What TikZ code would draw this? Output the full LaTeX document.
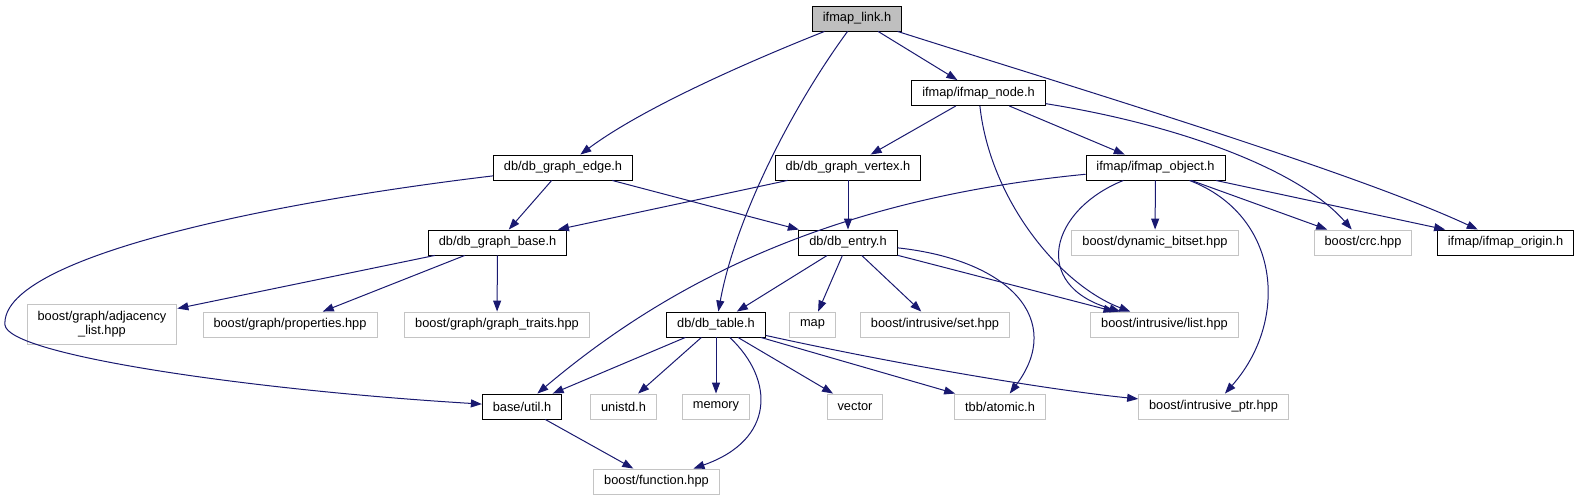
\documentclass[tikz,border=0pt]{standalone}
\usepackage{fontspec}
\setmainfont{Liberation Sans}
\definecolor{EdgeBlue}{RGB}{25, 25, 112}
\definecolor{RootGray}{RGB}{191, 191, 191}
\definecolor{SysGray}{RGB}{196, 196, 196}
\usetikzlibrary{arrows.meta}

\begin{document}
\begin{tikzpicture}[
    x=1pt, y=-1pt,
    every node/.style={font=\fontsize{12.8}{14}\selectfont, align=center,
                       inner xsep=10.5pt, inner ysep=2pt, minimum height=25pt},
    hdr/.style={draw=black, line width=0.9pt, fill=white},
    root/.style={hdr, fill=RootGray},
    sys/.style={draw=SysGray, line width=0.9pt, fill=white},
    incl/.style={-{Triangle[length=11pt, width=8pt]}, EdgeBlue, line width=1pt}
]
\useasboundingbox (0,0) rectangle (1586,500);

% project headers
\node[root] (link) at (857,18.5) {ifmap\_link.h};
\node[hdr] (inode) at (978.5,93) {ifmap/ifmap\_node.h};
\node[hdr] (gedge) at (563,167.5) {db/db\_graph\_edge.h};
\node[hdr] (gvertex) at (848,167.5) {db/db\_graph\_vertex.h};
\node[hdr] (iobject) at (1155.5,167.5) {ifmap/ifmap\_object.h};
\node[hdr] (gbase) at (497.5,242.5) {db/db\_graph\_base.h};
\node[hdr] (entry) at (848,242.5) {db/db\_entry.h};
\node[hdr] (origin) at (1505.5,242.5) {ifmap/ifmap\_origin.h};
\node[hdr] (dbtable) at (716,324.5) {db/db\_table.h};
\node[hdr] (util) at (522,406.5) {base/util.h};

% system headers
\node[sys] (bitset) at (1155,242.5) {boost/dynamic\_bitset.hpp};
\node[sys] (crc) at (1363,242.5) {boost/crc.hpp};
\node[sys, minimum height=40pt] (adjlist) at (102,324) {boost/graph/adjacency\\\_list.hpp};
\node[sys] (props) at (290,324.5) {boost/graph/properties.hpp};
\node[sys] (gtraits) at (497,324.5) {boost/graph/graph\_traits.hpp};
\node[sys] (map) at (812.5,324.5) {map};
\node[sys] (iset) at (935,324.5) {boost/intrusive/set.hpp};
\node[sys] (ilist) at (1164.5,324.5) {boost/intrusive/list.hpp};
\node[sys] (unistd) at (623.5,406.5) {unistd.h};
\node[sys] (memory) at (716,406.5) {memory};
\node[sys] (vector) at (855,406.5) {vector};
\node[sys] (atomic) at (1000,406.5) {tbb/atomic.h};
\node[sys] (iptr) at (1213.5,406.5) {boost/intrusive\_ptr.hpp};
\node[sys] (function) at (656.5,481.5) {boost/function.hpp};

% includes of ifmap_link.h
\draw[incl] (link) .. controls (740,65) and (640,110) .. (gedge);
\draw[incl] (link) .. controls (790,110) and (735,220) .. (dbtable);
\draw[incl] (link) -- (inode);
\draw[incl] (link) .. controls (1050,80) and (1350,170) .. (origin);

% includes of ifmap_node.h
\draw[incl] (inode) -- (gvertex);
\draw[incl] (inode) .. controls (990,200) and (1060,285) .. (ilist);
\draw[incl] (inode) -- (iobject);
\draw[incl] (inode) .. controls (1180,125) and (1300,170) .. (crc);

% includes of db_graph_edge.h
\draw[incl] (gedge) -- (gbase);
\draw[incl] (gedge) -- (entry);
\draw[incl] (gedge) .. controls (250,205) and (0,260) .. (5,325)
                    .. controls (8,355) and (250,390) .. (util);

% includes of db_graph_vertex.h
\draw[incl] (gvertex) -- (gbase);
\draw[incl] (gvertex) -- (entry);

% includes of ifmap_object.h
\draw[incl] (iobject) .. controls (820,200) and (660,290) .. (util);
\draw[incl] (iobject) -- (bitset);
\draw[incl] (iobject) .. controls (1050,210) and (1030,285) .. (ilist);
\draw[incl] (iobject) .. controls (1280,215) and (1290,320) .. (iptr);
\draw[incl] (iobject) -- (crc);
\draw[incl] (iobject) -- (origin);

% includes of db_graph_base.h
\draw[incl] (gbase) -- (adjlist);
\draw[incl] (gbase) -- (props);
\draw[incl] (gbase) -- (gtraits);

% includes of db_entry.h
\draw[incl] (entry) -- (dbtable);
\draw[incl] (entry) -- (map);
\draw[incl] (entry) -- (iset);
\draw[incl] (entry) -- (ilist);
\draw[incl] (entry) .. controls (1010,260) and (1065,320) .. (atomic);

% includes of db_table.h
\draw[incl] (dbtable) -- (util);
\draw[incl] (dbtable) -- (unistd);
\draw[incl] (dbtable) -- (memory);
\draw[incl] (dbtable) .. controls (775,380) and (775,440) .. (function);
\draw[incl] (dbtable) -- (vector);
\draw[incl] (dbtable) -- (atomic);
\draw[incl] (dbtable) .. controls (900,365) and (1050,390) .. (iptr);

% includes of base/util.h
\draw[incl] (util) -- (function);
\end{tikzpicture}
\end{document}
